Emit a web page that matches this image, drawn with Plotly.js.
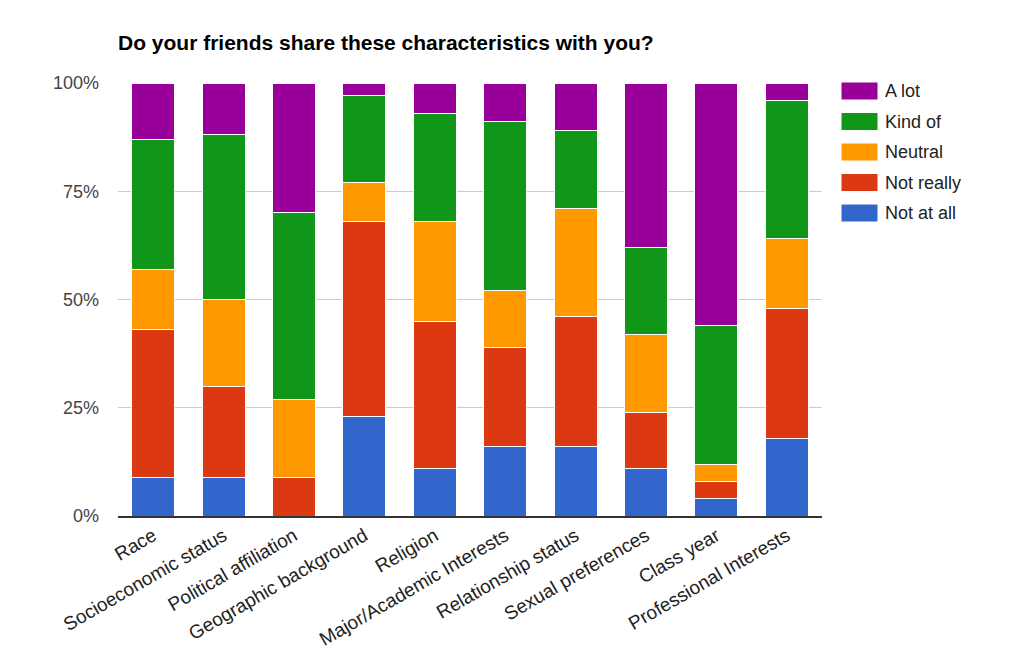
<!DOCTYPE html>
<html>
<head>
<meta charset="utf-8">
<script src="https://cdn.plot.ly/plotly-3.0.1.min.js"></script>
<style>html,body{margin:0;padding:0;background:#fff;}#chart{width:1024px;height:653px;}</style>
</head>
<body>
<div id="chart"></div>
<script>
var categories = ["Race","Socioeconomic status","Political affiliation","Geographic background","Religion","Major/Academic Interests","Relationship status","Sexual preferences","Class year","Professional Interests"];
var notAtAll  = [9, 9, 0, 23, 11, 16, 16, 11, 4, 18];
var notReally = [34, 21, 9, 45, 34, 23, 30, 13, 4, 30];
var neutral   = [14, 20, 18, 9, 23, 13, 25, 18, 4, 16];
var kindOf    = [30, 38, 43, 20, 25, 39, 18, 20, 32, 32];
var aLot      = [13, 12, 30, 3, 7, 9, 11, 38, 56, 4];
var seriesNames = ["Not at all","Not really","Neutral","Kind of","A lot"];
var seriesColors = ["#3366cc","#dc3912","#ff9900","#109618","#990099"];
var seriesData = [notAtAll, notReally, neutral, kindOf, aLot];

var traces = seriesData.map(function(vals, i){
  return {
    type: 'bar', x: categories, y: vals.map(function(v){return v/100;}),
    name: seriesNames[i],
    marker: {color: seriesColors[i], line: {color: '#ffffff', width: 1}},
    showlegend: false, hoverinfo: 'name+y'
  };
});

var FONT = 'Liberation Sans, Arial, sans-serif';
// custom legend (A lot at top)
var shapes = [], annotations = [];
var L = 118, R = 822, T = 83, B = 516;
function px2x(p){return (p - L)/(R - L);}
function py2y(p){return (B - p)/(B - T);}
for (var k = 0; k < 5; k++) {
  var idx = 4 - k;
  var cy = 91 + k*30.5;
  shapes.push({type:'rect', xref:'paper', yref:'paper',
    x0: px2x(841), x1: px2x(878), y0: py2y(cy+9), y1: py2y(cy-9),
    fillcolor: seriesColors[idx], line:{color:'#ffffff', width:1}});
  annotations.push({xref:'paper', yref:'paper', x: px2x(883), y: py2y(cy),
    xanchor:'left', yanchor:'middle', showarrow:false, text: seriesNames[idx],
    font:{family: FONT, size:18, color:'#222222'}});
}

var layout = {
  width: 1024, height: 653,
  margin: {l: L, r: 1024 - R, t: T, b: 653 - B},
  paper_bgcolor: '#ffffff', plot_bgcolor: '#ffffff',
  barmode: 'stack', bargap: 0.39,
  title: {text: '<b>Do your friends share these characteristics with you?</b>',
    x: 118/1024, xanchor: 'left', xref: 'container', y: 1 - 43/653, yanchor: 'middle',
    font: {family: FONT, size: 21, color: '#000000'}},
  xaxis: {tickangle: -30, tickfont: {family: FONT, size: 19, color: '#222222'},
    showline: true, linecolor: '#333333', linewidth: 1.5, showgrid: false, ticks: '', fixedrange: true},
  yaxis: {range: [0, 1], tickvals: [0, 0.25, 0.5, 0.75, 1], ticktext: ['0%','25%','50%','75%','100%'],
    showgrid: true, gridcolor: '#cccccc', gridwidth: 1, zeroline: false, showline: false,
    tickfont: {family: FONT, size: 18, color: '#444444'},
    ticklabelstandoff: 18, fixedrange: true},
  shapes: shapes, annotations: annotations,
  showlegend: false
};
Plotly.newPlot('chart', traces, layout, {displayModeBar: false, staticPlot: true});
</script>
</body>
</html>
